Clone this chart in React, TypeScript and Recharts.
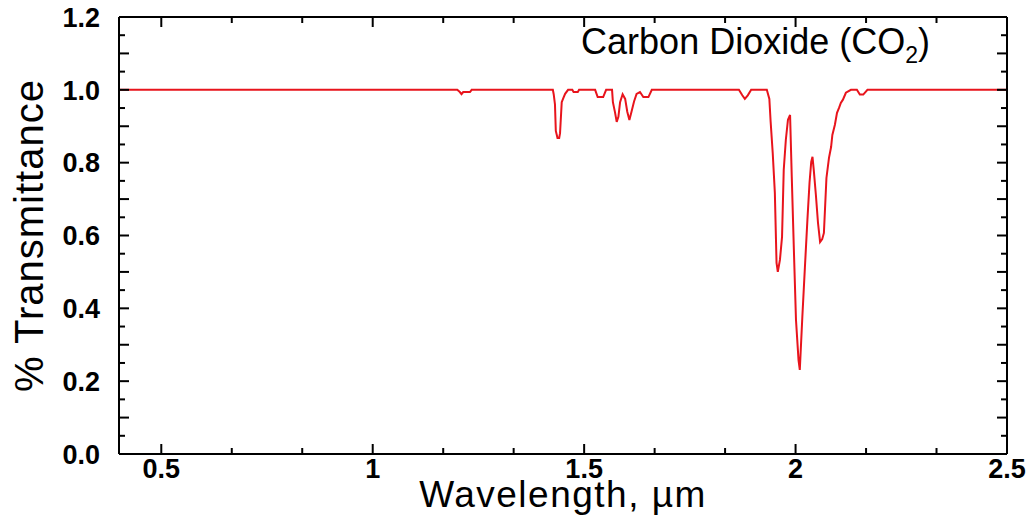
import React from 'react';
import { LineChart, Line, XAxis, YAxis } from 'recharts';

const wavelength = [
  0.4, 1.2, 1.206, 1.21, 1.214, 1.23, 1.234,
  1.426, 1.428, 1.431, 1.433, 1.437, 1.441, 1.443, 1.447, 1.451, 1.455, 1.462, 1.472, 1.475, 1.485, 1.488,
  1.526, 1.532, 1.545, 1.552, 1.566, 1.568, 1.573, 1.577, 1.581, 1.585, 1.591, 1.597, 1.602, 1.607, 1.612,
  1.618, 1.624, 1.632, 1.64, 1.652, 1.66,
  1.866, 1.874, 1.88, 1.887, 1.895,
  1.932, 1.938, 1.941, 1.946, 1.951, 1.955, 1.958, 1.963, 1.968, 1.972, 1.977, 1.982, 1.987, 1.991, 1.996,
  2.001, 2.007, 2.01, 2.016, 2.022, 2.028, 2.033, 2.037, 2.04, 2.043, 2.048, 2.053, 2.058, 2.063, 2.067,
  2.073, 2.079, 2.084, 2.087, 2.093, 2.098, 2.103, 2.107, 2.112, 2.119, 2.131, 2.145, 2.152, 2.16, 2.17, 2.5,
];

const transmittance = [
  1.0, 1.0, 0.994, 0.988, 0.994, 0.994, 1.0,
  1.0, 0.988, 0.96, 0.887, 0.868, 0.868, 0.881, 0.966, 0.978, 0.989, 1.0, 1.0, 0.994, 0.994, 1.0,
  1.0, 0.98, 0.98, 1.0, 1.0, 0.966, 0.938, 0.912, 0.926, 0.966, 0.988, 0.975, 0.94, 0.917, 0.94,
  0.968, 0.989, 0.994, 0.98, 0.98, 1.0,
  1.0, 0.985, 0.975, 0.985, 1.0,
  1.0, 0.975, 0.913, 0.826, 0.717, 0.525, 0.5, 0.533, 0.596, 0.78, 0.863, 0.918, 0.931, 0.761, 0.56,
  0.368, 0.258, 0.231, 0.376, 0.511, 0.643, 0.745, 0.802, 0.816, 0.78, 0.712, 0.635, 0.582, 0.59, 0.607,
  0.758, 0.813, 0.843, 0.876, 0.904, 0.937, 0.951, 0.964, 0.973, 0.992, 1.0, 1.0, 0.987, 0.987, 1.0, 1.0,
];

const xTicks = [
  0.5, 0.6667, 0.8333, 1, 1.1667, 1.3333, 1.5, 1.6667, 1.8333, 2, 2.1667, 2.3333, 2.5,
];
const yTicks = [
  0, 0.05, 0.1, 0.15, 0.2, 0.25, 0.3, 0.35, 0.4, 0.45, 0.5, 0.55, 0.6, 0.65, 0.7, 0.75, 0.8, 0.85,
  0.9, 0.95, 1.0, 1.05, 1.1, 1.15, 1.2,
];
const xDomain = [0.4, 2.5];
const yDomain = [0, 1.2];

const title = 'Carbon Dioxide (CO';
const titleSub = '2';
const xTitle = 'Wavelength, µm';
const yTitle = '% Transmittance';

const data = wavelength.map((w, i) => ({ w, t: transmittance[i] }));

const FONT = '"Liberation Sans", Arial, Helvetica, sans-serif';
const isMultiple = (v: number, step: number) => Math.abs(v / step - Math.round(v / step)) < 1e-6;

const BottomTick = (props: any) => {
  const { x, y, payload } = props;
  const v = payload.value;
  const major = isMultiple(v, 0.5);
  return (
    <g>
      <line x1={x} y1={y} x2={x} y2={y - (major ? 10 : 6)} stroke="#000" strokeWidth={2} />
      {major && (
        <text x={x} y={y + 24} textAnchor="middle" fontFamily={FONT} fontWeight={700} fontSize={27} fill="#000">
          {String(v)}
        </text>
      )}
    </g>
  );
};

const TopTick = (props: any) => {
  const { x, y, payload } = props;
  const major = isMultiple(payload.value, 0.5);
  return <line x1={x} y1={y} x2={x} y2={y + (major ? 10 : 6)} stroke="#000" strokeWidth={2} />;
};

const LeftTick = (props: any) => {
  const { x, y, payload } = props;
  const v = payload.value;
  const major = isMultiple(v, 0.1);
  const labelled = isMultiple(v, 0.2);
  return (
    <g>
      <line x1={x} y1={y} x2={x + (major ? 10 : 6)} y2={y} stroke="#000" strokeWidth={2} />
      {labelled && (
        <text x={x - 19} y={y} dy="0.36em" textAnchor="end" fontFamily={FONT} fontWeight={700} fontSize={27} fill="#000">
          {v.toFixed(1)}
        </text>
      )}
    </g>
  );
};

const RightTick = (props: any) => {
  const { x, y, payload } = props;
  const major = isMultiple(payload.value, 0.1);
  return <line x1={x} y1={y} x2={x - (major ? 10 : 6)} y2={y} stroke="#000" strokeWidth={2} />;
};

const XTitle = (props: any) => {
  const vb = props.viewBox;
  return (
    <text x={vb.x + vb.width / 2} y={vb.y + 53} textAnchor="middle" fontFamily={FONT} fontSize={37} letterSpacing={1.5} fill="#000">
      {xTitle}
    </text>
  );
};

const YTitle = (props: any) => {
  const vb = props.viewBox;
  const cx = vb.x + 43;
  const cy = vb.y + vb.height / 2;
  return (
    <text x={cx} y={cy} transform={`rotate(-90 ${cx} ${cy})`} textAnchor="middle" fontFamily={FONT} fontSize={40} letterSpacing={1} fill="#000">
      {yTitle}
    </text>
  );
};

const TopTitle = (props: any) => {
  const vb = props.viewBox;
  return (
    <text x={vb.x + vb.width - 77} y={vb.y + 37} textAnchor="end" fontFamily={FONT} fontSize={36} fill="#000">
      <tspan>{title}</tspan>
      <tspan fontSize={23} dy={9}>{titleSub}</tspan>
      <tspan dy={-9}>)</tspan>
    </text>
  );
};

const axisLine = { stroke: '#000', strokeWidth: 2 };

export default function App() {
  return (
    <div style={{ position: 'absolute', left: 0, top: 0, width: 1026, height: 519, background: '#fff' }}>
      <LineChart width={1026} height={519} data={data} margin={{ top: 17, right: 19, bottom: 0, left: 0 }}>
        <XAxis
          xAxisId="xb"
          dataKey="w"
          type="number"
          orientation="bottom"
          domain={xDomain}
          allowDataOverflow
          ticks={xTicks}
          interval={0}
          tickSize={0}
          tickMargin={0}
          tickLine={false}
          height={65}
          axisLine={axisLine}
          tick={<BottomTick />}
          label={<XTitle />}
        />
        <XAxis
          xAxisId="xt"
          dataKey="w"
          type="number"
          orientation="top"
          mirror
          domain={xDomain}
          allowDataOverflow
          ticks={xTicks}
          interval={0}
          tickSize={0}
          tickMargin={0}
          tickLine={false}
          axisLine={axisLine}
          tick={<TopTick />}
          label={<TopTitle />}
        />
        <YAxis
          yAxisId="yl"
          type="number"
          orientation="left"
          domain={yDomain}
          allowDataOverflow
          ticks={yTicks}
          interval={0}
          tickSize={0}
          tickMargin={0}
          tickLine={false}
          width={119}
          axisLine={axisLine}
          tick={<LeftTick />}
          label={<YTitle />}
        />
        <YAxis
          yAxisId="yr"
          type="number"
          orientation="right"
          mirror
          domain={yDomain}
          allowDataOverflow
          ticks={yTicks}
          interval={0}
          tickSize={0}
          tickMargin={0}
          tickLine={false}
          axisLine={axisLine}
          tick={<RightTick />}
        />
        <Line
          xAxisId="xb"
          yAxisId="yl"
          type="linear"
          dataKey="t"
          stroke="#e8141c"
          strokeWidth={2}
          dot={false}
          isAnimationActive={false}
        />
      </LineChart>
    </div>
  );
}
